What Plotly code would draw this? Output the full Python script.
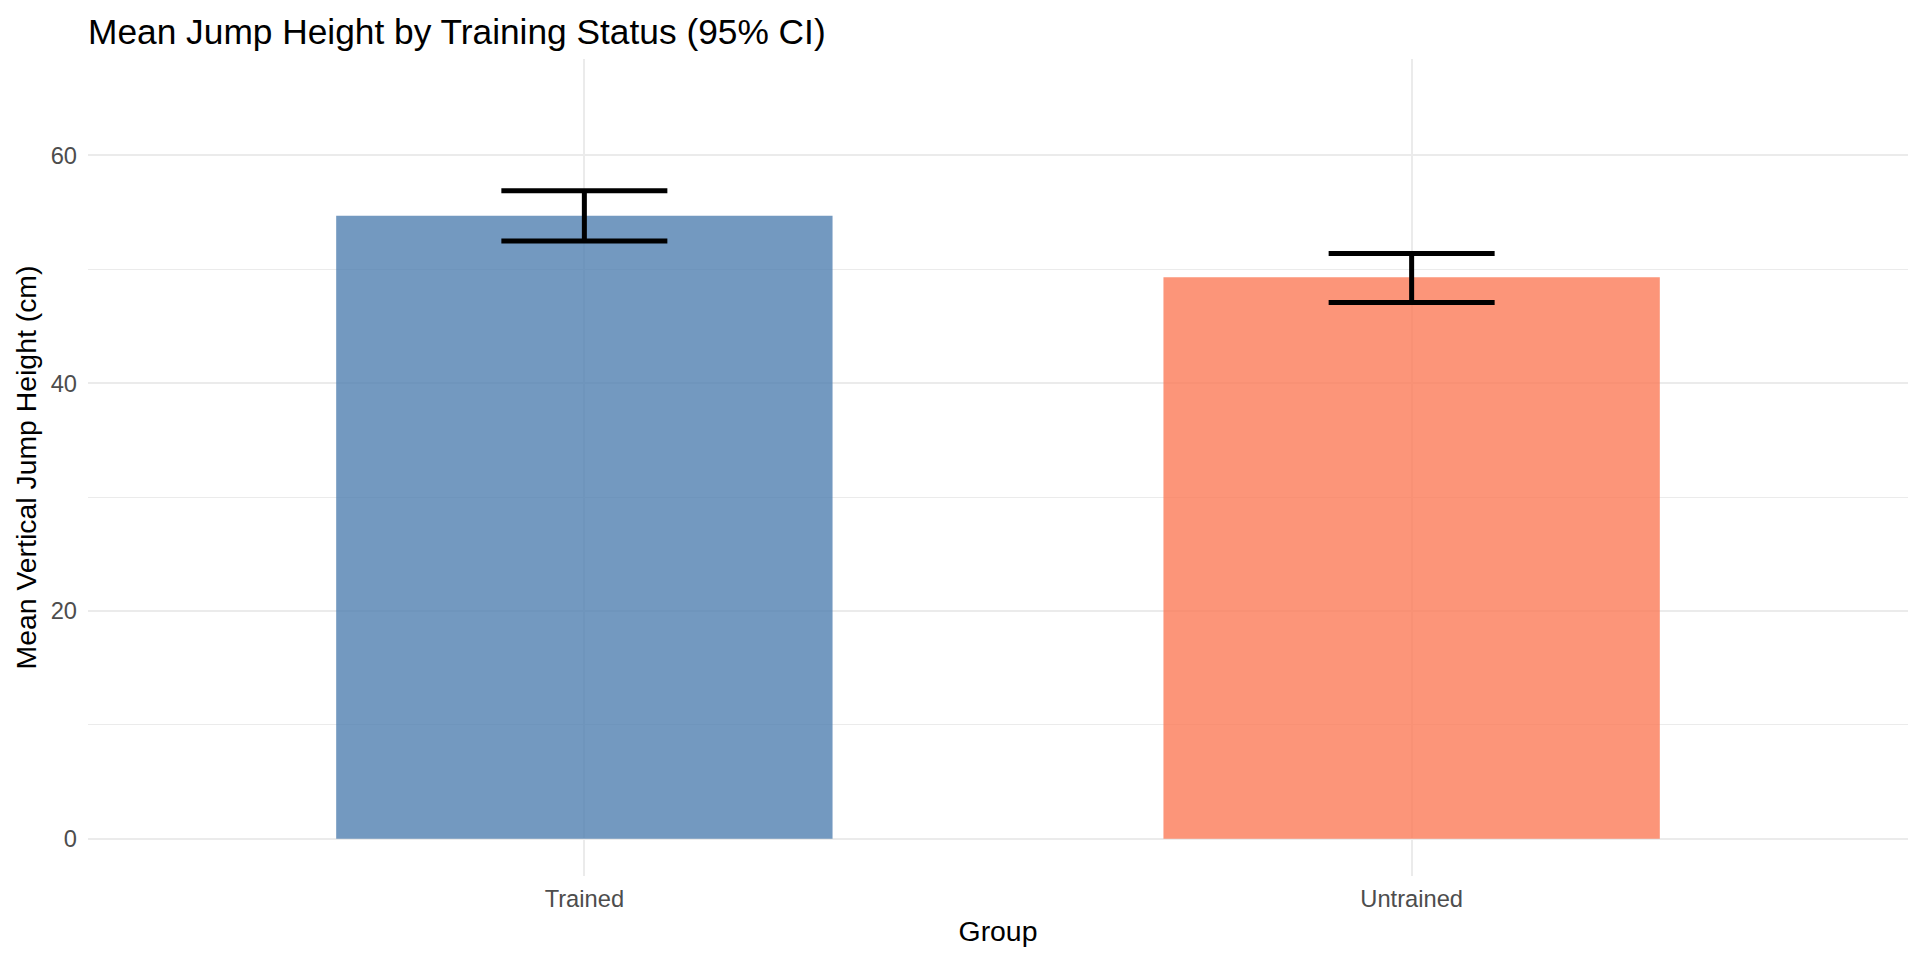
import plotly.graph_objects as go

groups = ["Trained", "Untrained"]
means = [54.7, 49.3]
ci_lower = [52.5, 47.1]
ci_upper = [56.9, 51.4]
bar_colors = ["rgba(80,128,176,0.8)", "rgba(251,122,87,0.8)"]

err_plus = [u - m for u, m in zip(ci_upper, means)]
err_minus = [m - l for m, l in zip(means, ci_lower)]

W, H = 1904, 944  # page body has an 8px margin

fig = go.Figure()
fig.add_trace(go.Bar(
    x=groups, y=means, width=0.6,
    marker=dict(color=bar_colors, line=dict(width=0)),
    error_y=dict(type="data", symmetric=False, array=err_plus, arrayminus=err_minus,
                 color="black", thickness=5, width=83),
    showlegend=False,
))

fig.update_layout(
    width=W, height=H,
    paper_bgcolor="white", plot_bgcolor="white",
    margin=dict(l=80, r=4, t=51, b=76, autoexpand=False),
    font=dict(family="Liberation Sans, Arial, sans-serif", color="black"),
    title=dict(text="Mean Jump Height by Training Status (95% CI)", x=0, xref="paper",
               xanchor="left", y=1 - 24 / H, yref="container", yanchor="middle",
               font=dict(size=35.3, color="black")),
    bargap=0.4,
)
fig.update_xaxes(
    range=[-0.6, 1.6], showgrid=True, gridcolor="#EBEBEB", gridwidth=2,
    zeroline=False, showline=False, ticks="", tickfont=dict(size=23.7, color="#4D4D4D"),
    ticklabelstandoff=6,
    title=dict(text="Group", font=dict(size=28.4, color="black"), standoff=10),
)
fig.update_yaxes(
    range=[-3.26, 68.47], dtick=20, tick0=0, showgrid=True, gridcolor="#EBEBEB", gridwidth=2,
    minor=dict(dtick=10, tick0=0, showgrid=True, gridcolor="#EBEBEB", gridwidth=1),
    zeroline=False, showline=False, ticks="", tickfont=dict(size=23.7, color="#4D4D4D"),
    ticklabelstandoff=10,
    title=dict(text="Mean Vertical Jump Height (cm)", font=dict(size=28.4, color="black"), standoff=5),
)

fig.write_html("out.html")
